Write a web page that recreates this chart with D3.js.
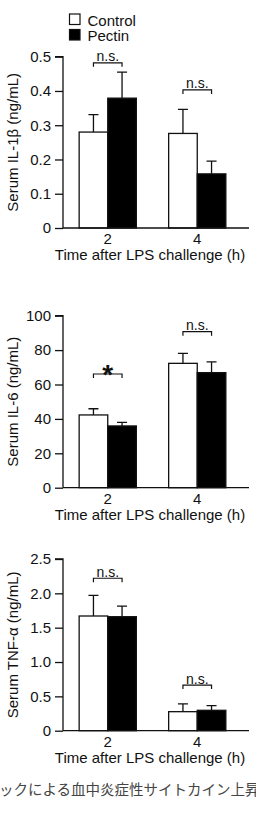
<!DOCTYPE html>
<html><head><meta charset="utf-8">
<script src="https://cdn.jsdelivr.net/npm/d3@7"></script>
<style>
html,body{margin:0;padding:0;background:#fff;}
svg{display:block;}
text{font-family:"Liberation Sans",Arial,sans-serif;fill:#111;}
</style></head>
<body>
<svg id="chart" width="256" height="826"></svg>
<script>
// ---- data ----
const categories = ["2", "4"];
const seriesNames = ["Control", "Pectin"];

const il1bControl = [0.280, 0.276];
const il1bControlErr = [0.051, 0.070];
const il1bPectin = [0.379, 0.158];
const il1bPectinErr = [0.076, 0.037];
const il1bTicks = [0, 0.1, 0.2, 0.3, 0.4, 0.5];
const il1bTickLabels = ["0", "0.1", "0.2", "0.3", "0.4", "0.5"];
const il1bSigLabels = ["n.s.", "n.s."];
const il1bSigLevels = [0.482, 0.403];

const il6Control = [42.3, 72.3];
const il6ControlErr = [3.6, 5.8];
const il6Pectin = [35.9, 66.9];
const il6PectinErr = [2.1, 6.2];
const il6Ticks = [0, 20, 40, 60, 80, 100];
const il6TickLabels = ["0", "20", "40", "60", "80", "100"];
const il6SigLabels = ["*", "n.s."];
const il6SigLevels = [66.1, 90.7];

const tnfControl = [1.67, 0.277];
const tnfControlErr = [0.30, 0.113];
const tnfPectin = [1.66, 0.297];
const tnfPectinErr = [0.155, 0.067];
const tnfTicks = [0, 0.5, 1.0, 1.5, 2.0, 2.5];
const tnfTickLabels = ["0", "0.5", "1.0", "1.5", "2.0", "2.5"];
const tnfSigLabels = ["n.s.", "n.s."];
const tnfSigLevels = [2.22, 0.665];

const yTitles = ["Serum IL-1β (ng/mL)", "Serum IL-6 (ng/mL)", "Serum TNF-α (ng/mL)"];
const xTitle = "Time after LPS challenge (h)";
const caption = "ックによる血中炎症性サイトカイン上昇";

// ---- layout ----
const svg = d3.select("#chart");
const axisX = 63, axisRight = 249;
const panels = [
  {y0: 228, yTop: 56.7, max: 0.5, control: il1bControl, cErr: il1bControlErr, pectin: il1bPectin, pErr: il1bPectinErr, ticks: il1bTicks, labels: il1bTickLabels, sig: il1bSigLabels, sigLv: il1bSigLevels, title: yTitles[0]},
  {y0: 487.7, yTop: 315.7, max: 100, control: il6Control, cErr: il6ControlErr, pectin: il6Pectin, pErr: il6PectinErr, ticks: il6Ticks, labels: il6TickLabels, sig: il6SigLabels, sigLv: il6SigLevels, title: yTitles[1]},
  {y0: 730.7, yTop: 559, max: 2.5, control: tnfControl, cErr: tnfControlErr, pectin: tnfPectin, pErr: tnfPectinErr, ticks: tnfTicks, labels: tnfTickLabels, sig: tnfSigLabels, sigLv: tnfSigLevels, title: yTitles[2]}
];

const x0 = d3.scaleBand().domain(categories).range([63, 242]).padding(0);
const barW = 28.6;
const x1 = d3.scaleBand().domain(seriesNames).range([-barW, barW]).padding(0);
const fills = {Control: "#fff", Pectin: "#000"};

panels.forEach(p => {
  const y = d3.scaleLinear().domain([0, p.max]).range([p.y0, p.yTop]);
  const g = svg.append("g");

  // y axis
  const ya = g.append("g").attr("transform", `translate(${axisX},0)`)
    .call(d3.axisLeft(y).tickValues(p.ticks).tickFormat((d, i) => p.labels[i]).tickSize(8).tickPadding(4));
  ya.selectAll("path.domain").attr("d", `M-8,${y(p.max)}H0V${y(0)}`).attr("stroke", "#111").attr("stroke-width", 1.3);
  ya.selectAll(".tick line").attr("stroke", "#111").attr("stroke-width", 1.3);
  ya.selectAll(".tick text").style("font-size", "15px").attr("fill", "#111");

  // bars
  const rows = [];
  categories.forEach((c, i) => {
    rows.push({cat: c, s: "Control", v: p.control[i], e: p.cErr[i]});
    rows.push({cat: c, s: "Pectin", v: p.pectin[i], e: p.pErr[i]});
  });
  const cx = d => x0(d.cat) + x0.bandwidth() / 2 + x1(d.s);

  // error bars (upward only)
  g.selectAll(".err").data(rows).enter().append("path")
    .attr("d", d => {
      const xc = cx(d) + x1.bandwidth() / 2;
      const yt = y(d.v + d.e);
      return `M${xc},${y(d.v)}V${yt}M${xc - 5},${yt}H${xc + 5}`;
    })
    .attr("stroke", "#111").attr("stroke-width", 1.3).attr("fill", "none");

  g.selectAll(".bar").data(rows).enter().append("rect")
    .attr("x", d => cx(d)).attr("width", x1.bandwidth())
    .attr("y", d => y(d.v)).attr("height", d => y(0) - y(d.v))
    .attr("fill", d => fills[d.s]).attr("stroke", "#111").attr("stroke-width", 1.3);

  // x axis
  g.append("path").attr("d", `M${axisX},${p.y0}H${axisRight}`).attr("stroke", "#111").attr("stroke-width", 1.3);
  g.selectAll(".xl").data(categories).enter().append("text")
    .attr("x", d => x0(d) + x0.bandwidth() / 2).attr("y", p.y0 + 16)
    .attr("text-anchor", "middle").style("font-size", "15px").text(d => d);
  g.append("text").attr("x", 150).attr("y", p.y0 + 32).attr("text-anchor", "middle")
    .style("font-size", "15px").text(xTitle);

  // y title
  g.append("text").attr("transform", `translate(18,${(p.y0 + p.yTop) / 2}) rotate(-90)`)
    .attr("text-anchor", "middle").style("font-size", "15px").text(p.title);

  // significance brackets
  categories.forEach((c, i) => {
    const xa = x0(c) + x0.bandwidth() / 2 - barW / 2;
    const xb = x0(c) + x0.bandwidth() / 2 + barW / 2;
    const yb = y(p.sigLv[i]);
    g.append("path").attr("d", `M${xa},${yb + 4}V${yb}H${xb}V${yb + 4}`)
      .attr("stroke", "#111").attr("stroke-width", 1.2).attr("fill", "none");
    if (p.sig[i] === "*") {
      g.append("text").attr("x", (xa + xb) / 2).attr("y", yb + 9.5).attr("text-anchor", "middle")
        .style("font-size", "28px").style("font-weight", "bold").text(p.sig[i]);
    } else {
      g.append("text").attr("x", (xa + xb) / 2).attr("y", yb - 1.5).attr("text-anchor", "middle")
        .style("font-size", "14px").text(p.sig[i]);
    }
  });
});

// legend
const legend = svg.append("g");
seriesNames.forEach((s, i) => {
  legend.append("rect").attr("x", 69.5).attr("y", 14 + i * 15.5).attr("width", 10.5).attr("height", 10.5)
    .attr("fill", fills[s]).attr("stroke", "#111").attr("stroke-width", 1.2);
  legend.append("text").attr("x", 87.5).attr("y", 25.5 + i * 15).style("font-size", "15px").text(s);
});

// caption
svg.append("text").attr("x", -1).attr("y", 795).style("font-family", "'Noto Sans CJK JP',sans-serif")
  .style("font-size", "14.5px").style("fill", "#444").text(caption);
</script>
</body></html>
